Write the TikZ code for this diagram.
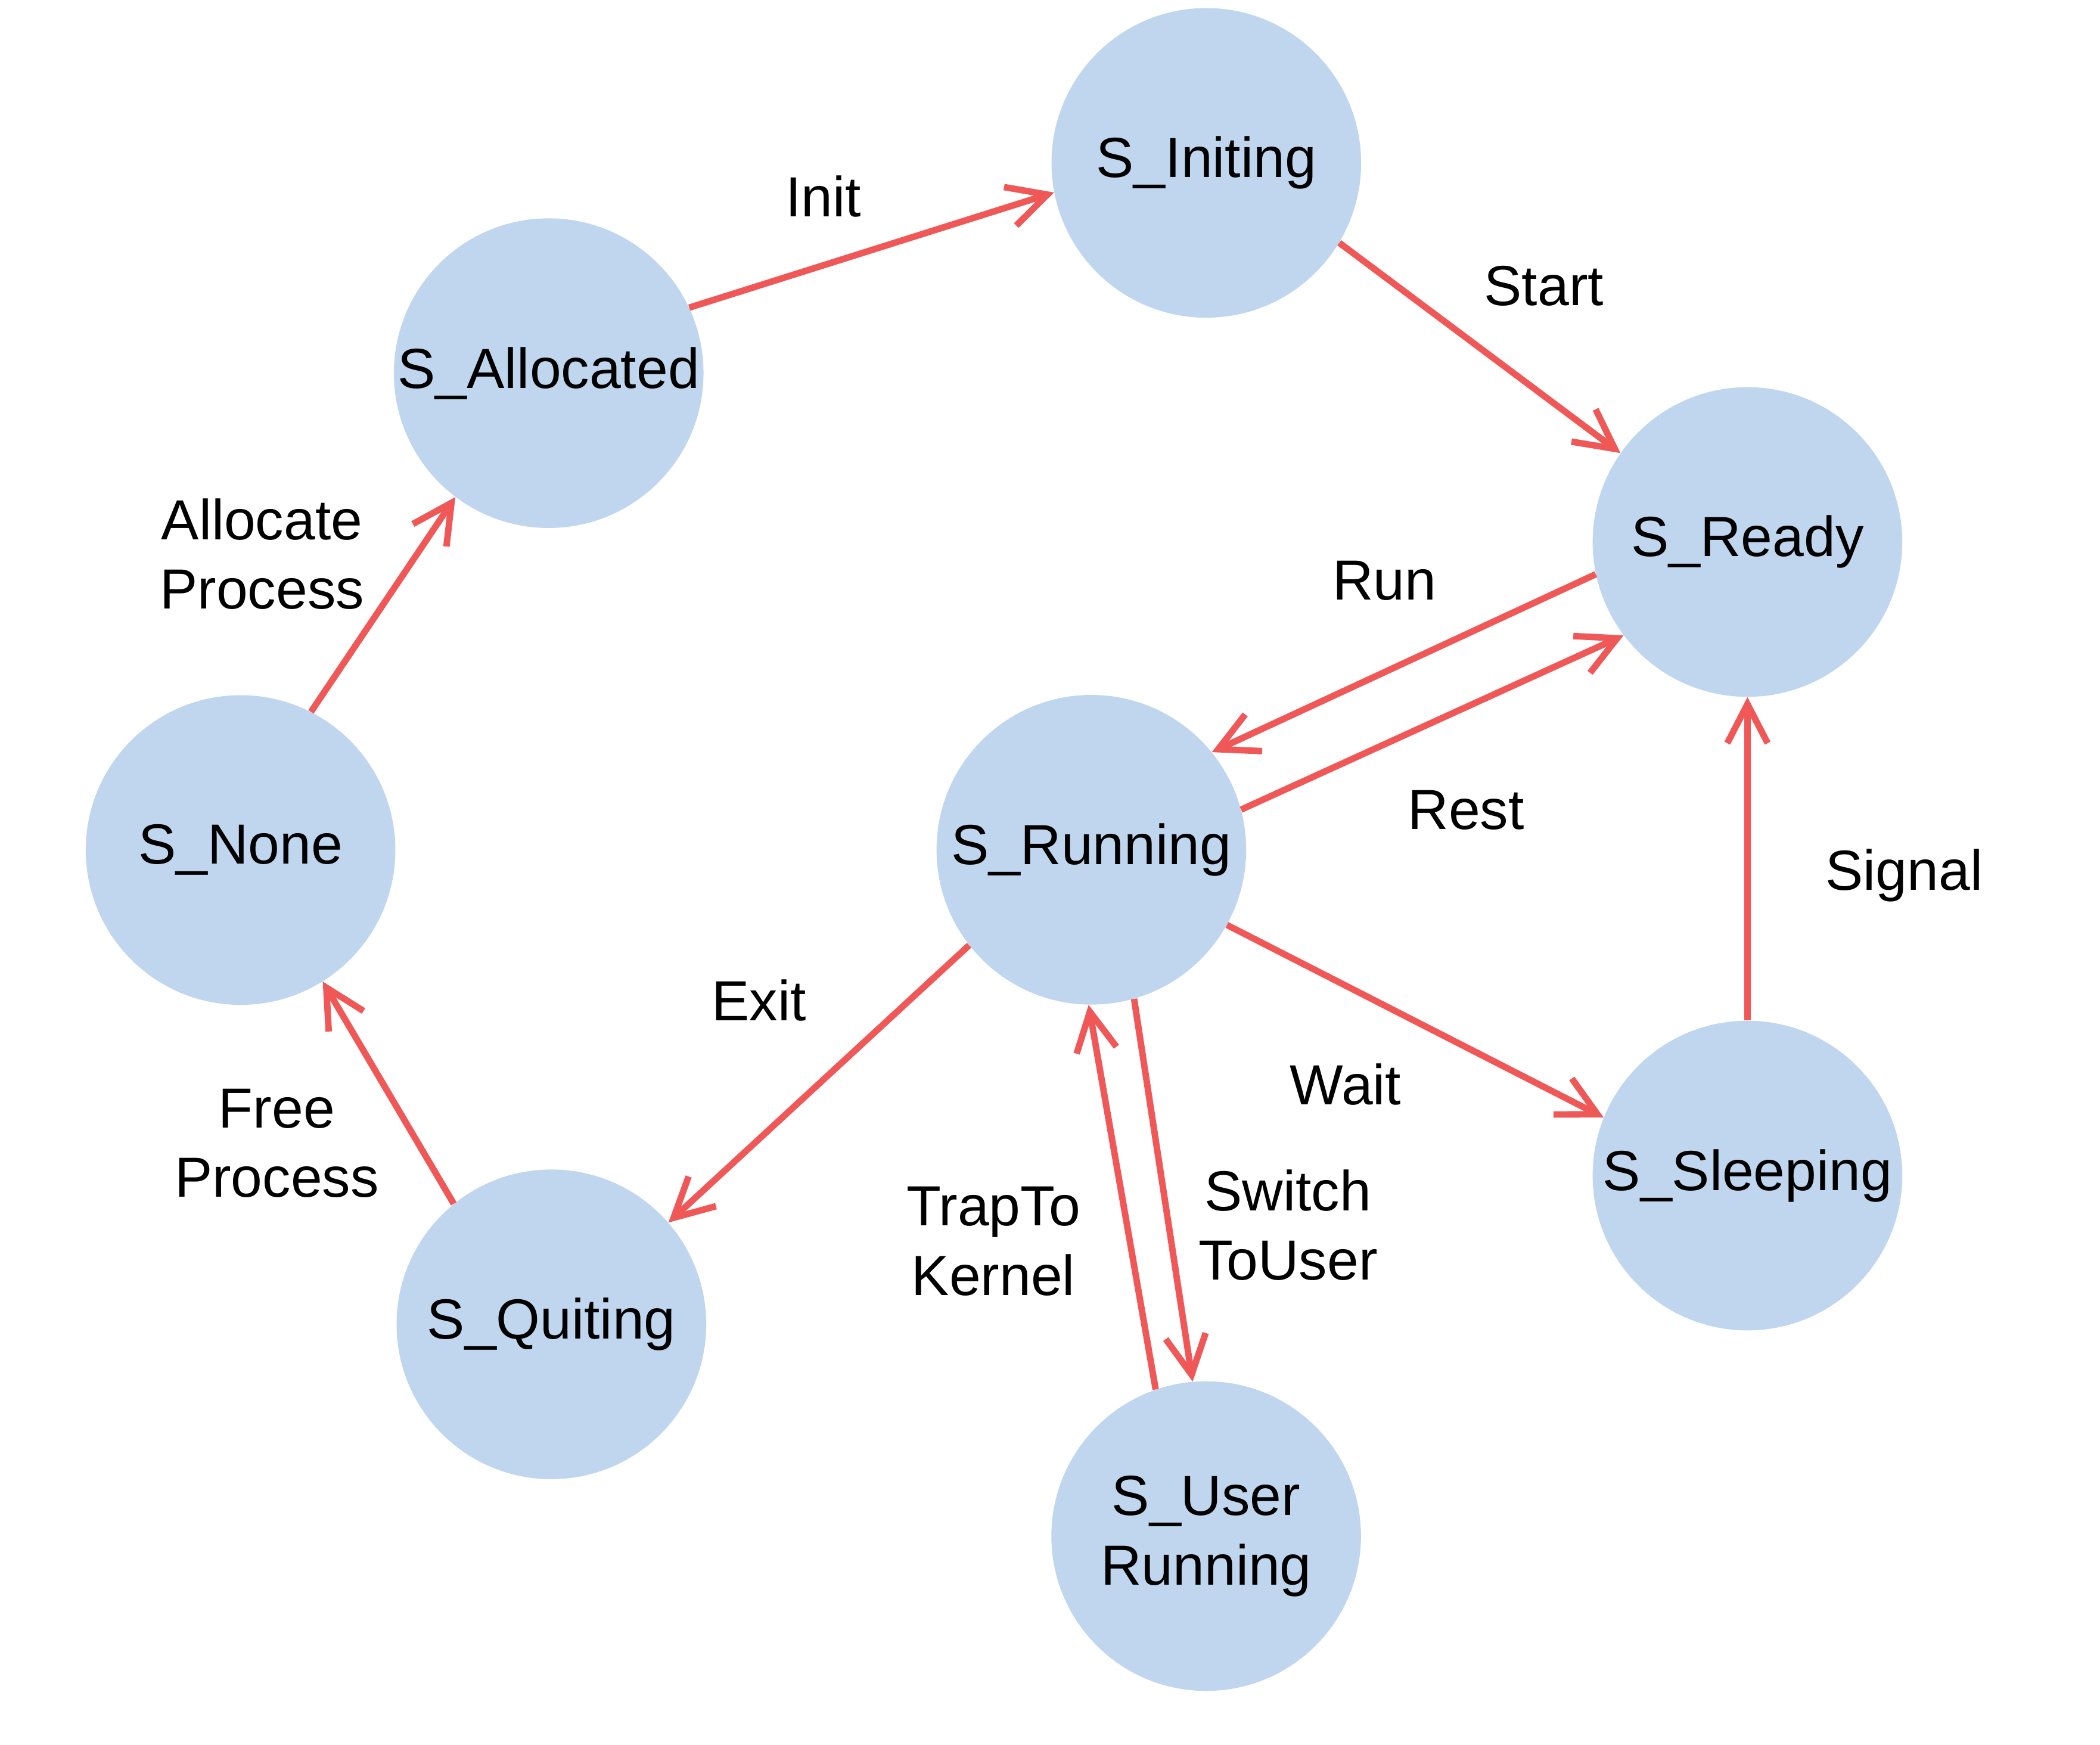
\documentclass[tikz,border=0pt]{standalone}
\usepackage{fontspec}
\setmainfont{Liberation Sans}
\usetikzlibrary{arrows.meta}
\definecolor{statefill}{HTML}{BFD6EE}
\definecolor{edgered}{HTML}{F05858}
\tikzset{
  state/.style={circle, fill=statefill, draw=none, minimum size=230pt, inner sep=0pt, align=center, font=\fontsize{42}{51.6}\selectfont},
  lbl/.style={align=center, font=\fontsize{42}{51.6}\selectfont, inner sep=0pt},
  trans/.style={draw=edgered, line width=4.8pt, -{Straight Barb[length=29pt,width=30pt,line cap=butt,line join=miter]}}
}
\begin{document}
\begin{tikzpicture}[x=1pt,y=1pt]
\useasboundingbox (0,0) rectangle (1560,1296);
% states
\node[state] (init)  at (896.1,1175.0) {S\_Initing};
\node[state] (alloc) at (407.6,1018.8) {S\_Allocated};
\node[state] (ready) at (1298.1,893.4) {S\_Ready};
\node[state] (none)  at (178.7,664.6) {S\_None};
\node[state] (run)   at (810.7,664.8) {S\_Running};
\node[state] (sleep) at (1298.1,422.8) {S\_Sleeping};
\node[state] (quit)  at (409.6,312.3) {S\_Quiting};
\node[state] (user)  at (896.0,155.0) {S\_User\\Running};
% transitions
\draw[trans] (alloc.25.4) -- (init.191.1);
\draw[trans] (init.-31.9) -- (ready.145.6);
\draw[trans] (ready.192.2) -- (run.39.9);
\draw[trans] (run.15.2) -- (ready.217.9);
\draw[trans] (sleep.90) -- (ready.270);
\draw[trans] (run.-29) -- (sleep.158.1);
\draw[trans] (run.218) -- (quit.41.2);
\draw[trans] (quit.129.8) -- (none.-58.5);
\draw[trans] (none.63.7) -- (alloc.233.7);
\draw[trans] (run.-74.2) -- (user.95.5);
\draw[trans] (user.109.9) -- (run.269.5);
% labels
\node[lbl] (linit)  at (611.5,1150.1) {Init};
\node[lbl] (lstart) at (1146.9,1083.5) {Start};
\node[lbl] (lrun)   at (1028.4,864.6) {Run};
\node[lbl] (lrest)  at (1089.1,694.4) {Rest};
\node[lbl] (lsig)   at (1414.5,645.7) {Signal};
\node[lbl] (lwait)  at (999.6,490.4) {Wait};
\node[lbl] (lexit)  at (563.8,553.1) {Exit};
\node[lbl] (lfree)  at (205.6,446.7) {Free\\Process};
\node[lbl] (lallo)  at (194.6,884.5) {Allocate\\Process};
\node[lbl] (lsw)    at (956.8,386.0) {Switch\\ToUser};
\node[lbl] (ltrap)  at (737.9,374.0) {TrapTo\\Kernel};
\end{tikzpicture}
\end{document}
